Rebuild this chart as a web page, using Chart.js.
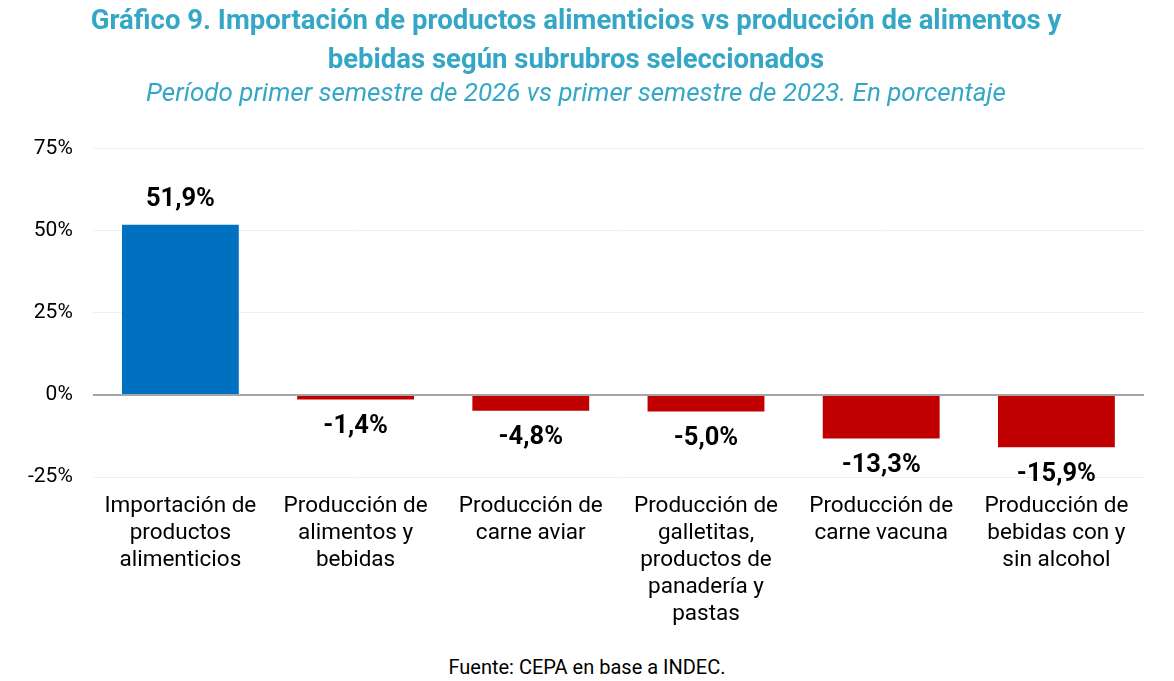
<!DOCTYPE html>
<html>
<head>
<meta charset="utf-8">
<script src="https://cdn.jsdelivr.net/npm/chart.js@4/dist/chart.umd.min.js"></script>
<style>
  html, body { margin: 0; padding: 0; background: #fff; }
  #wrap { position: relative; width: 1174px; height: 681px; }
  #fuente { position: absolute; left: 0; width: 1174px; top: 654px; line-height: 26px; text-align: center;
    font-family: Roboto, sans-serif; font-size: 20px; color: #000; }
</style>
</head>
<body>
<div id="wrap">
  <canvas id="grafico" width="1174" height="650"></canvas>
  <div id="fuente">Fuente: CEPA en base a INDEC.</div>
</div>
<script>
const categorias = [
  ['Importación de', 'productos', 'alimenticios'],
  ['Producción de', 'alimentos y', 'bebidas'],
  ['Producción de', 'carne aviar'],
  ['Producción de', 'galletitas,', 'productos de', 'panadería y', 'pastas'],
  ['Producción de', 'carne vacuna'],
  ['Producción de', 'bebidas con y', 'sin alcohol']
];
const variacion = [51.9, -1.4, -4.8, -5.0, -13.3, -15.9];
const ticksY = [-25, 0, 25, 50, 75];

const colores = variacion.map(v => v >= 0 ? '#0070c0' : '#c00000');

// etiquetas de valor arriba o abajo de cada barra
const etiquetas = {
  id: 'etiquetas',
  afterDatasetsDraw(chart) {
    const ctx = chart.ctx;
    const meta = chart.getDatasetMeta(0);
    ctx.save();
    ctx.font = 'bold 25.5px Roboto';
    ctx.fillStyle = '#000';
    ctx.textAlign = 'center';
    ctx.textBaseline = 'middle';
    meta.data.forEach((bar, i) => {
      const v = variacion[i];
      const txt = v.toFixed(1).replace('.', ',') + '%';
      if (v >= 0) {
        ctx.fillText(txt, bar.x, bar.y - 25);
      } else {
        ctx.fillText(txt, bar.x, bar.y + 27);
      }
    });
    ctx.restore();
  }
};

new Chart(document.getElementById('grafico'), {
  type: 'bar',
  data: {
    labels: categorias,
    datasets: [{
      data: variacion,
      backgroundColor: colores,
      barPercentage: 0.667,
      categoryPercentage: 1
    }]
  },
  options: {
    responsive: false,
    animation: false,
    layout: { padding: { left: 8, right: 30, top: 0, bottom: 14 } },
    plugins: {
      legend: { display: false },
      tooltip: { enabled: false },
      title: {
        display: true,
        text: ['Gráfico 9. Importación de productos alimenticios vs producción de alimentos y', 'bebidas según subrubros seleccionados'],
        color: '#35a7c6',
        font: { family: 'Roboto', size: 27.5, weight: 'bold', lineHeight: 1.4 },
        padding: { top: 3, bottom: 0 }
      },
      subtitle: {
        display: true,
        text: 'Período primer semestre de 2026 vs primer semestre de 2023. En porcentaje',
        color: '#35a7c6',
        font: { family: 'Roboto', size: 26, style: 'italic', lineHeight: 1.15 },
        padding: { top: 0, bottom: 39 }
      }
    },
    scales: {
      y: {
        min: -25,
        max: 75,
        afterBuildTicks(axis) { axis.ticks = ticksY.map(v => ({ value: v })); },
        border: { display: false },
        grid: {
          color: c => c.tick.value === 0 ? '#a6a6a6' : '#f0f0f0',
          lineWidth: c => c.tick.value === 0 ? 2 : 1,
          drawTicks: false
        },
        ticks: {
          color: '#000',
          padding: 20,
          font: { family: 'Roboto', size: 21 },
          callback: v => v + '%'
        }
      },
      x: {
        border: { display: false },
        grid: { display: false },
        ticks: {
          color: '#000',
          maxRotation: 0,
          autoSkip: false,
          padding: 8,
          font: { family: 'Roboto', size: 22.5, lineHeight: 1.2 }
        }
      }
    }
  },
  plugins: [etiquetas]
});
</script>
</body>
</html>
